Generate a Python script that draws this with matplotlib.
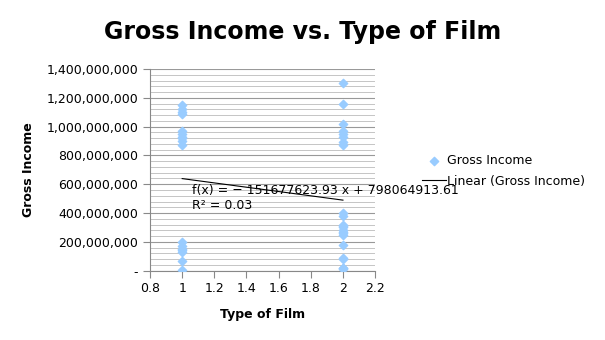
import numpy as np
import matplotlib.pyplot as plt
from matplotlib.ticker import FuncFormatter, MultipleLocator

# film type 1 and film type 2 gross incomes (in billions)
type1_income = [1.15, 1.12, 1.10, 1.09, 0.97, 0.95, 0.93, 0.92, 0.90, 0.87,
                0.20, 0.17, 0.15, 0.14, 0.13, 0.07, 0.005]
type2_income = [1.30, 1.16, 1.02, 0.97, 0.95, 0.93, 0.89, 0.87,
                0.40, 0.38, 0.32, 0.31, 0.30, 0.28, 0.27, 0.26, 0.25,
                0.18, 0.09, 0.08, 0.02, 0.02, 0.01]
equation_text = "f(x) = \u2212 151677623.93 x + 798064913.61\nR\u00b2 = 0.03"

x = np.array([1] * len(type1_income) + [2] * len(type2_income), dtype=float)
y = np.array(type1_income + type2_income) * 1e9

fig = plt.figure(figsize=(6.05, 3.4), dpi=100)
ax = fig.add_axes([0.248, 0.204, 0.372, 0.593])

ax.scatter(x, y, marker="D", s=18, color="#99ccff", zorder=3, label="Gross Income")

slope, intercept = np.polyfit(x, y, 1)
xs = np.array([1.0, 2.0])
ax.plot(xs, slope * xs + intercept, color="black", lw=0.8, zorder=4,
        label="Linear (Gross Income)")

ax.set_xlim(0.8, 2.2)
ax.set_ylim(0, 1.4e9)
ax.xaxis.set_major_locator(MultipleLocator(0.2))
ax.yaxis.set_major_locator(MultipleLocator(2e8))
ax.yaxis.set_minor_locator(MultipleLocator(4e7))
ax.xaxis.set_major_formatter(FuncFormatter(lambda v, p: f"{v:g}"))
ax.yaxis.set_major_formatter(FuncFormatter(lambda v, p: "-" if v == 0 else f"{v:,.0f}"))

ax.grid(axis="y", which="major", color="#999999", lw=0.8)
ax.grid(axis="y", which="minor", color="#bbbbbb", lw=0.6)
ax.set_axisbelow(True)
for s in ["top", "right"]:
    ax.spines[s].set_visible(False)
for s in ["left", "bottom"]:
    ax.spines[s].set_color("#888888")
ax.tick_params(axis="both", which="major", labelsize=9, color="#888888", length=5)
ax.tick_params(axis="y", which="minor", length=0)

ax.set_xlabel("Type of Film", fontsize=9, fontweight="bold", labelpad=9)
ax.set_ylabel("Gross Income", fontsize=9, fontweight="bold", labelpad=8)
fig.suptitle("Gross Income vs. Type of Film", fontsize=17, fontweight="bold", y=0.94)

ax.text(1.06, 6.0e8, equation_text, fontsize=9, va="top", linespacing=1.2)

ax.legend(loc="center left", bbox_to_anchor=(1.16, 0.495), frameon=False, fontsize=9,
          handlelength=1.9, handletextpad=0.1, labelspacing=0.6)

plt.savefig("out.png", dpi=100)
